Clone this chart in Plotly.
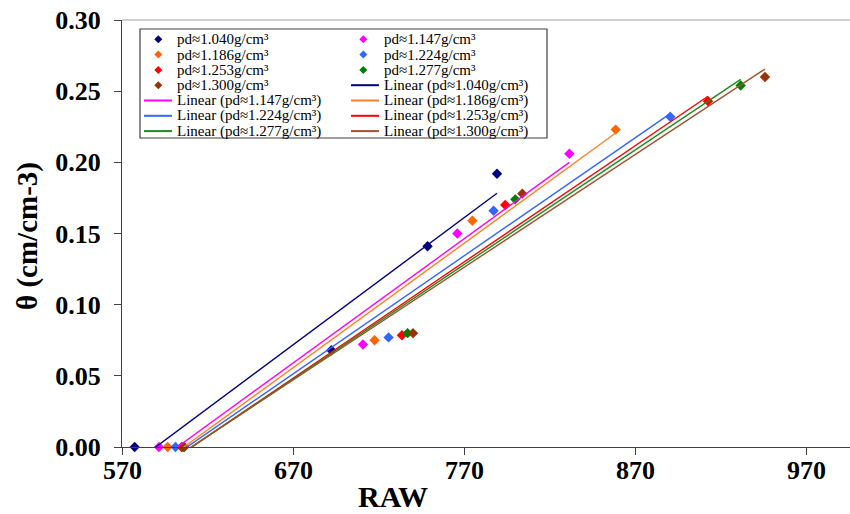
import numpy as np
import plotly.graph_objects as go

# ---------------- data ----------------
series_names = ["pd≈1.040g/cm³", "pd≈1.147g/cm³", "pd≈1.186g/cm³", "pd≈1.224g/cm³",
                "pd≈1.253g/cm³", "pd≈1.277g/cm³", "pd≈1.300g/cm³"]
raw_1040 = [577.4, 692.4, 748.7, 789.3]
theta_1040 = [0.000, 0.068, 0.141, 0.192]
raw_1147 = [591.6, 710.9, 766.1, 831.6]
theta_1147 = [0.000, 0.072, 0.150, 0.206]
raw_1186 = [596.7, 717.7, 774.9, 858.7]
theta_1186 = [0.000, 0.075, 0.159, 0.223]
raw_1224 = [601.3, 725.9, 787.3, 890.6]
theta_1224 = [0.000, 0.077, 0.166, 0.232]
raw_1253 = [604.9, 733.7, 794.1, 912.7]
theta_1253 = [0.000, 0.0785, 0.170, 0.243]
raw_1277 = [605.7, 737.0, 800.0, 931.8]
theta_1277 = [0.000, 0.080, 0.174, 0.254]
raw_1300 = [606.4, 740.2, 804.1, 946.0]
theta_1300 = [0.000, 0.080, 0.178, 0.260]

x_ticks = [570, 670, 770, 870, 970]
y_ticks = [0.00, 0.05, 0.10, 0.15, 0.20, 0.25, 0.30]

raws = [raw_1040, raw_1147, raw_1186, raw_1224, raw_1253, raw_1277, raw_1300]
thetas = [theta_1040, theta_1147, theta_1186, theta_1224, theta_1253, theta_1277, theta_1300]

# ---------------- style ----------------
marker_colors = ["#000080", "#FF00FF", "#FF6600", "#3366FF", "#FF0000", "#008000", "#993300"]
line_colors = ["#000080", "#FF00FF", "#FF7F27", "#3366FF", "#FF0000", "#1E8C1E", "#A0522D"]
FONT = "Times New Roman, Liberation Serif, serif"

W, H = 850, 514
ML, MR, MT, MB = 122, 0, 20, 67
PW, PH = W - ML - MR, H - MT - MB


def xp(px):
    return (px - ML) / PW


def yp(py):
    return (H - MB - py) / PH


fig = go.Figure()
for i in range(len(raws)):
    fig.add_trace(go.Scatter(x=raws[i], y=thetas[i], mode="markers",
                             marker=dict(symbol="diamond", size=8, color=marker_colors[i]),
                             cliponaxis=False, showlegend=False, name=series_names[i]))
for i in range(len(raws)):
    xs = np.array(raws[i])
    k, b = np.polyfit(xs, np.array(thetas[i]), 1)
    xl = np.array([xs.min(), xs.max()])
    fig.add_trace(go.Scatter(x=xl, y=k * xl + b, mode="lines",
                             line=dict(color=line_colors[i], width=1.4),
                             showlegend=False, name="Linear (" + series_names[i] + ")"))

# ---------------- manual legend ----------------
shapes = []
annotations = []
box = dict(x0=140, x1=547, y0=29, y1=138)
shapes.append(dict(type="rect", xref="paper", yref="paper",
                   x0=xp(box["x0"]), x1=xp(box["x1"]), y0=yp(box["y1"]), y1=yp(box["y0"]),
                   line=dict(color="#404040", width=1.2), fillcolor="white", layer="above"))
entries = [(series_names[i], "m", i) for i in range(7)] + \
          [("Linear (" + series_names[i] + ")", "l", i) for i in range(7)]
row_y0, row_dy = 39.3, 15.3
cols = [dict(mx=158.3, lx0=144, lx1=172, tx=175), dict(mx=363.3, lx0=351, lx1=379, tx=382)]
for n, (label, kind, i) in enumerate(entries):
    c = cols[n % 2]
    py = row_y0 + row_dy * (n // 2)
    if kind == "m":
        shapes.append(dict(type="path", xref="paper", yref="paper",
                           xsizemode="pixel", ysizemode="pixel",
                           xanchor=xp(c["mx"]), yanchor=yp(py),
                           path="M 0 4 L 4 0 L 0 -4 L -4 0 Z",
                           fillcolor=marker_colors[i], line=dict(width=0), layer="above"))
    else:
        shapes.append(dict(type="line", xref="paper", yref="paper",
                           x0=xp(c["lx0"]), x1=xp(c["lx1"]), y0=yp(py), y1=yp(py),
                           line=dict(color=line_colors[i], width=2), layer="above"))
    annotations.append(dict(text=label, xref="paper", yref="paper", x=xp(c["tx"]), y=yp(py),
                            xanchor="left", yanchor="middle", showarrow=False,
                            font=dict(family=FONT, size=15, color="black")))

# top border of plot area
shapes.append(dict(type="line", xref="paper", yref="paper", x0=0, x1=1, y0=1, y1=1,
                   line=dict(color="#A0A0A0", width=1.2), layer="below"))

# x tick labels
for v in x_ticks:
    annotations.append(dict(text="<b>%d</b>" % v, xref="x", yref="paper", x=v, y=yp(470),
                            showarrow=False, xanchor="center", yanchor="middle",
                            font=dict(family=FONT, size=26, color="black")))

# axis titles
annotations.append(dict(text="<b>θ (cm/cm-3)</b>", xref="paper", yref="paper",
                        x=xp(27), y=yp(236), textangle=-90, showarrow=False,
                        xanchor="center", yanchor="middle",
                        font=dict(family=FONT, size=29, color="black")))
annotations.append(dict(text="<b>RAW</b>", xref="paper", yref="paper",
                        x=xp(393), y=yp(497), showarrow=False,
                        xanchor="center", yanchor="middle",
                        font=dict(family=FONT, size=30, color="black")))

fig.update_layout(
    width=W, height=H, margin=dict(l=ML, r=MR, t=MT, b=MB),
    paper_bgcolor="white", plot_bgcolor="white",
    shapes=shapes, annotations=annotations, showlegend=False,
    xaxis=dict(range=[570, 570 + PW / 1.71], tickvals=x_ticks, showticklabels=False,
               showgrid=False, zeroline=False, showline=True, linecolor="#404040", linewidth=1.2,
               ticks="outside", ticklen=7, tickcolor="#404040"),
    yaxis=dict(range=[0, 0.30], tickvals=y_ticks, ticktext=["<b>%.2f</b>" % v for v in y_ticks],
               showgrid=False, zeroline=False, showline=True, linecolor="#404040", linewidth=1.2,
               ticks="outside", ticklen=7, tickcolor="#404040", ticklabelstandoff=8,
               tickfont=dict(family=FONT, size=26, color="black")),
)

fig.write_html("out.html")
